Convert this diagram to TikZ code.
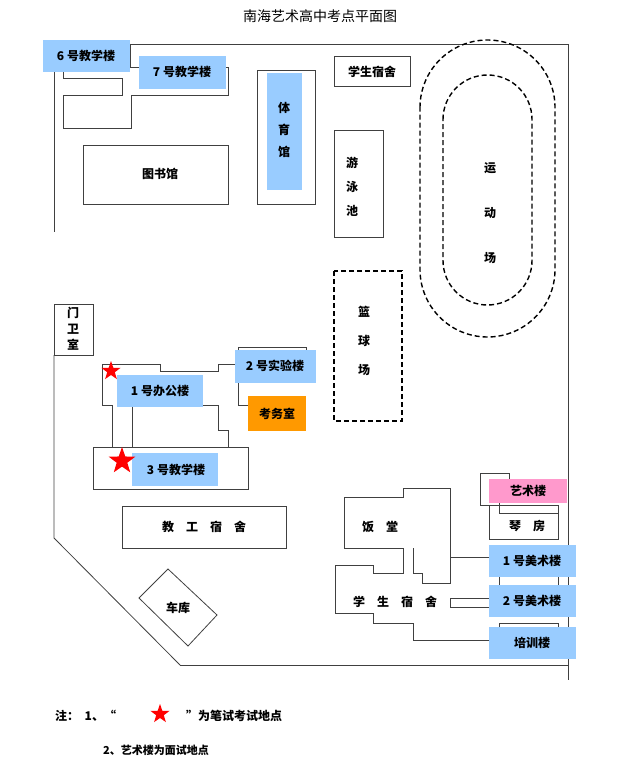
\documentclass[tikz,border=0pt]{standalone}
\usepackage{fontspec}
\setmainfont{Noto Sans CJK SC}
\usetikzlibrary{shapes.geometric}
\definecolor{bl}{HTML}{99CCFF}
\definecolor{org}{HTML}{FF9900}
\definecolor{pk}{HTML}{FF99CC}
\tikzset{wall/.style={draw=black!75,line width=0.8pt},
 lbl/.style={font=\fontsize{12}{14}\selectfont\bfseries,inner sep=0pt},
 vlbl/.style={lbl,align=center,font=\fontsize{12}{22}\selectfont\bfseries},
 blue/.style={fill=bl,draw=none},
 trk/.style={draw,line width=1.4pt,dash pattern=on 5pt off 3pt}}
\begin{document}
\begin{tikzpicture}[x=1pt,y=-1pt]
\useasboundingbox (0,0) rectangle (631,770);
\node[font=\fontsize{14}{16}\selectfont] (title) at (320,16) {南海艺术高中考点平面图};
% boundary
\draw[wall] (130,44) -- (568,44) -- (568,680);
\draw[wall] (180,665) -- (568,665);
\draw[wall] (54,72) -- (54,232);
\draw[wall] (54,355) -- (54,538) -- (180,665);
% 6/7 outlines
\draw[wall] (63,72) -- (63,78) -- (122,78) -- (122,95) -- (63,95) -- (63,128) -- (131,128) -- (131,95) -- (228,95) -- (228,67) -- (139,67);
\draw[wall] (130,44) -- (130,67) -- (139,67);
\path[blue] (43,40) rectangle (130,72);
\node[lbl] (b6) at (86,56) {6 号教学楼};
\path[blue] (139,56) rectangle (226,89);
\node[lbl] (b7) at (182,72) {7 号教学楼};
% library
\draw[wall] (83,145) rectangle (228,204);
\node[lbl] (lib) at (160,174) {图书馆};
% gym
\draw[wall] (257,70) rectangle (315,204);
\path[blue] (267,73) rectangle (302,190);
\node[vlbl] (gym) at (284,130) {体\\育\\馆};
% dorm top
\draw[wall] (334,56) rectangle (410,86);
\node[lbl] (dorm1) at (372,72) {学生宿舍};
% pool
\draw[wall] (334,130) rectangle (383,237);
\node[vlbl,font=\fontsize{12}{24}\selectfont\bfseries] (pool) at (352,187) {游\\泳\\池};
% track
\draw[trk] (420,107.5) arc (180:360:67.5) -- (555,269.5) arc (0:180:67.5) -- cycle;
\draw[trk] (443,119.5) arc (180:360:44.5) -- (532,260.5) arc (0:180:44.5) -- cycle;
\node[vlbl,font=\fontsize{12}{45}\selectfont\bfseries] (track) at (490,213) {运\\动\\场};
% basketball
\draw[trk] (334,271) rectangle (402,421);
\node[vlbl,font=\fontsize{12}{29}\selectfont\bfseries] (bask) at (364,341) {篮\\球\\场};
% gate
\draw[wall] (54,304) rectangle (93,355);
\node[vlbl,font=\fontsize{12}{16}\selectfont\bfseries] (gate) at (73,329) {门\\卫\\室};
% office / lab outlines
\draw[wall] (112,447) -- (112,405) -- (102,405) -- (102,364) -- (160,364) -- (160,371) -- (218,371) -- (218,364) -- (237,364);
\draw[wall] (238,383) -- (238,405) -- (248,405);
\draw[wall] (238,350) -- (238,347) -- (306,347) -- (306,350);
\draw[wall] (203,405) -- (218,405) -- (218,430) -- (228,430) -- (228,447);
\draw[wall] (132,407) -- (132,447);
\path[blue] (235,350) rectangle (316,383);
\node[lbl] (lab2) at (275,366) {2 号实验楼};
\path[fill=org] (248,396) rectangle (306,431);
\node[lbl] (exam) at (277,414) {考务室};
\path[blue] (117,375) rectangle (203,407);
\node[lbl] (off1) at (160,391) {1 号办公楼};
\draw[wall] (93,447) rectangle (248,489);
\path[blue] (132,453) rectangle (218,486);
\node[lbl] (b3) at (176,470) {3 号教学楼};
\node[star,star points=5,star point ratio=2.5,fill=red,inner sep=0pt,minimum size=20pt] (s1) at (111,371) {};
\node[star,star points=5,star point ratio=2.5,fill=red,inner sep=0pt,minimum size=28pt] (s2) at (122,461) {};
% staff dorm
\draw[wall] (122,506) rectangle (286,548);
\node[lbl] (staff) at (204,527) {教\quad 工\quad 宿\quad 舍};
% garage
\draw[wall] (168,569) -- (217,615) -- (188,646) -- (139,598) -- cycle;
\node[lbl] (gar) at (178,608) {车库};
% canteen + dorm
\draw[wall] (403,548) -- (344,548) -- (344,497) -- (403,497) -- (403,488) -- (450,488) -- (450,557) -- (489,557);
\draw[wall] (413,548) -- (413,573) -- (422,573) -- (422,583) -- (450,583) -- (450,557);
\draw[wall] (403,548) -- (403,573) -- (373,573) -- (373,565) -- (335,565) -- (335,613) -- (373,613) -- (373,623) -- (413,623) -- (413,640) -- (489,640);
\draw[wall] (450,598) rectangle (489,607);
\node[lbl] (cant) at (380,527) {饭\quad 堂};
\node[lbl] (dorm2) at (395,602) {学\quad 生\quad 宿\quad 舍};
% art
\draw[wall] (489,473) -- (480,473) -- (480,505) -- (489,505);
\draw[wall] (480,473) -- (509,473) -- (509,479);
\draw[wall] (489,505) rectangle (558,539);
\draw[wall] (499,503) -- (499,513) -- (558,513);
\draw[wall] (499,575) rectangle (558,585);
\draw[wall] (499,623) rectangle (558,630);
\path[fill=pk] (489,479) rectangle (567,503);
\node[lbl] (art) at (528,491) {艺术楼};
\node[lbl] (piano) at (527,526) {琴\quad 房};
\path[blue] (489,545) rectangle (576,577);
\node[lbl] (m1) at (532,561) {1 号美术楼};
\path[blue] (489,585) rectangle (576,617);
\node[lbl] (m2) at (532,601) {2 号美术楼};
\path[blue] (489,627) rectangle (576,659);
\node[lbl] (train) at (532,643) {培训楼};
% notes
\node[lbl,anchor=west] (n1) at (55,716) {注：\ \ 1、“};
\node[lbl,anchor=west] (n1b) at (186,716) {”为笔试考试地点};
\node[star,star points=5,star point ratio=2.5,fill=red,inner sep=0pt,minimum size=20pt] (s3) at (160,714) {};
\node[lbl,anchor=west,font=\fontsize{11}{13}\selectfont\bfseries] (n2) at (103,750) {2、艺术楼为面试地点};
\end{tikzpicture}
\end{document}
